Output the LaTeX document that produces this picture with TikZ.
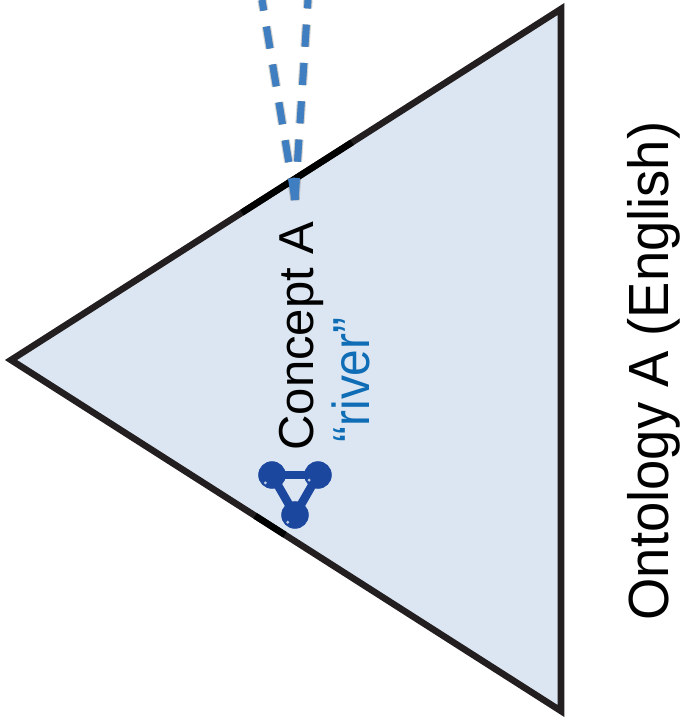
\documentclass[tikz,border=0pt]{standalone}
\usepackage{fontspec}
\usepackage{graphicx}
\usetikzlibrary{calc}
\setmainfont{Liberation Sans}
\definecolor{triline}{HTML}{231F20}
\definecolor{trifill}{HTML}{DCE6F2}
\definecolor{linkblue}{HTML}{3F7FC1}
\definecolor{riverblue}{HTML}{0F6DB6}
\definecolor{atomblue}{HTML}{1B479F}
\tikzset{
    atom/.style={circle,fill=atomblue,draw=atomblue,line width=0.6pt,minimum size=20pt,inner sep=0pt},
    linkdash/.style={dash pattern=on 16.6pt off 12.2pt,line width=5.2pt},
    sidetext/.style={rotate=90,inner sep=0pt,anchor=base},
    edgeline/.style={line width=4.9pt},
    bond/.style={atomblue,line width=6.4pt,shorten <=-4pt,shorten >=-4pt},
}
\begin{document}
\begin{tikzpicture}[x=0.75pt,y=-0.75pt]
\useasboundingbox (0,0) rectangle (683,720);

\coordinate (top) at (561,9);
\coordinate (tip) at (11,360);
\coordinate (bottom) at (561,711);
\coordinate (apex) at (295,200);
\coordinate (leftend) at (262,0);
\coordinate (rightend) at (308,0);

\draw[triline,fill=trifill,edgeline,miter limit=10] (top) -- (tip) -- (bottom) -- cycle;

% darker pieces of the edge
\draw[black,edgeline] ($(tip)!0.42!(top)$) -- ($(tip)!0.62!(top)$);
\draw[black,edgeline] ($(tip)!0.444!(bottom)$) -- ($(tip)!0.498!(bottom)$);

% soft shadow of the dashes
\begin{scope}[xshift=3.8pt,yshift=-2pt]
\foreach \w in {7,5.5,4,2.5}
{
    \draw[linkdash,black,opacity=0.16,line width=\w pt] (apex) -- (leftend);
    \draw[linkdash,black,opacity=0.16,line width=\w pt] (apex) -- (rightend);
}
\end{scope}

\draw[linkdash,linkblue] (apex) -- (leftend);
\draw[linkdash,linkblue] (apex) -- (rightend);

\node[sidetext,font=\fontsize{36.8}{40}\selectfont] (concept) at (313,336) {Concept A};
\node[sidetext,font=\fontsize{39}{42}\selectfont,text=riverblue] (river) at (369,380) {\scalebox{0.92}[1]{“river”}};
\node[sidetext,font=\fontsize{42.5}{46}\selectfont] (ontology) at (668,371) {\scalebox{0.96}[1]{Ontology A (English)}};

% molecule
\node[atom] (atomA) at (272,475) {};
\node[atom] (atomB) at (318,475) {};
\node[atom] (atomC) at (295,515) {};
\draw[bond] (atomA) -- (atomB);
\draw[bond] (atomB) -- (atomC);
\draw[bond] (atomC) -- (atomA);
\fill[white,opacity=0.7] ($(atomA)!0.75!(atomA.-130)$) circle (1.2pt);
\fill[white,opacity=0.7] ($(atomB)!0.75!(atomB.-150)$) circle (1.2pt);
\fill[white,opacity=0.7] ($(atomC)!0.75!(atomC.-135)$) circle (1.2pt);

\end{tikzpicture}
\end{document}
